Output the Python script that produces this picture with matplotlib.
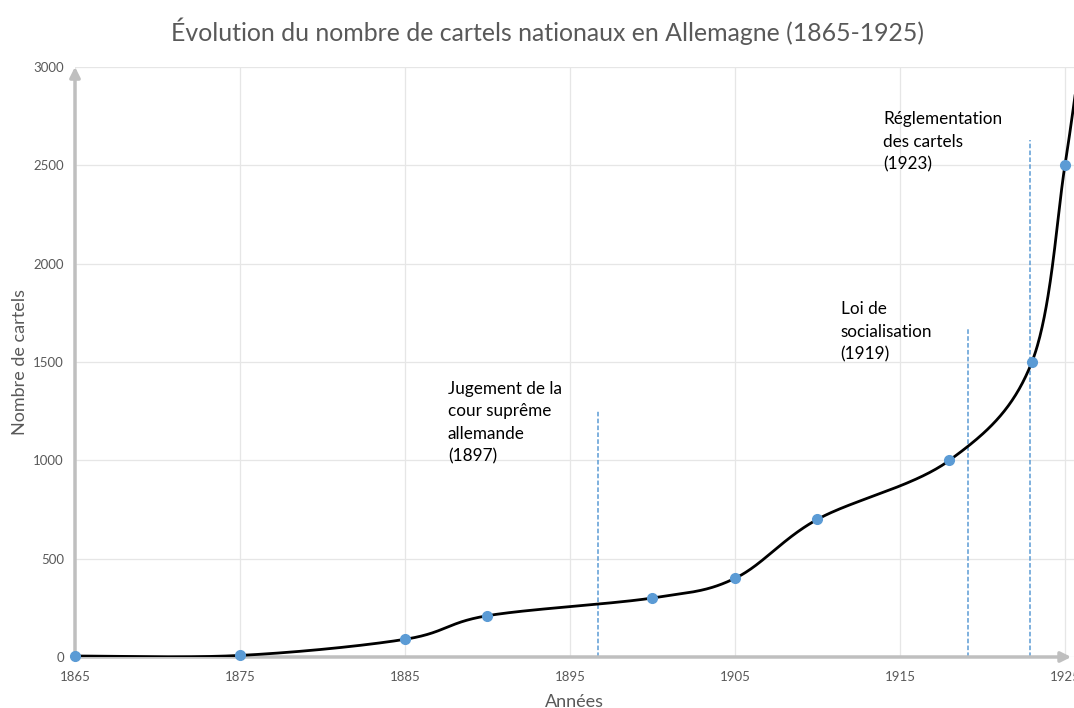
import matplotlib.pyplot as plt
import numpy as np

plt.rcParams['font.family'] = ['Lato', 'DejaVu Sans']

# data
years = [1865, 1875, 1885, 1890, 1900, 1905, 1910, 1918, 1923, 1925, 1926]
cartels = [5, 8, 90, 210, 300, 400, 700, 1000, 1500, 2500, 3100]

event_years = [1896.7, 1919.1, 1922.9]
event_tops = [1250, 1680, 2630]
event_labels = [
    "Jugement de la\ncour suprême\nallemande\n(1897)",
    "Loi de\nsocialisation\n(1919)",
    "Réglementation\ndes cartels\n(1923)",
]
label_pos = [(1887.6, 1405), (1911.4, 1810), (1914.0, 2775)]

GRAY = "#595959"
BLUE = "#5B9BD5"


def catmull_rom(xs, ys, n=60):
    p = np.column_stack([xs, ys]).astype(float)
    p = np.vstack([p[0], p, p[-1]])
    out = []
    for i in range(1, len(p) - 2):
        p0, p1, p2, p3 = p[i - 1], p[i], p[i + 1], p[i + 2]
        t = np.linspace(0, 1, n)[:, None]
        seg = 0.5 * ((2 * p1) + (-p0 + p2) * t
                     + (2 * p0 - 5 * p1 + 4 * p2 - p3) * t ** 2
                     + (-p0 + 3 * p1 - 3 * p2 + p3) * t ** 3)
        out.append(seg)
    out = np.vstack(out)
    return out[:, 0], out[:, 1]


fig = plt.figure(figsize=(10.74, 7.08), dpi=100)
ax = fig.add_axes([75 / 1074, 51 / 708, 999 / 1074, 590 / 708])

sx, sy = catmull_rom(years, cartels)
ax.plot(sx, sy, color="black", lw=2, zorder=5)
ax.plot(years, cartels, "o", color=BLUE, ms=7, zorder=6, clip_on=False)

for yr, top in zip(event_years, event_tops):
    ax.vlines(yr, 0, top, colors=BLUE, linestyles=(0, (3, 1.5)), lw=1.1, zorder=2)
for txt, (tx, ty) in zip(event_labels, label_pos):
    ax.text(tx, ty, txt, fontsize=12.3, va="top", ha="left", color="black", linespacing=1.5)

ax.set_xlim(1865, 1925.55)
ax.set_ylim(0, 3000)
ax.set_xticks(range(1865, 1926, 10))
ax.set_yticks(range(0, 3001, 500))
ax.grid(True, color="#e6e6e6", lw=0.9, zorder=0)
ax.set_axisbelow(True)
for s in ax.spines.values():
    s.set_visible(False)
ax.tick_params(length=0, labelsize=9.5, colors=GRAY, pad=8)
ax.tick_params(axis="x", pad=10)

# axis arrows
arrow = dict(arrowstyle="-|>,head_length=0.6,head_width=0.3", color="#bfbfbf", lw=2.5)
ax.annotate("", xy=(0, 1.005), xytext=(0, 0), xycoords="axes fraction",
            arrowprops=arrow, annotation_clip=False, zorder=3)
ax.annotate("", xy=(1.0, 0), xytext=(0, 0), xycoords="axes fraction",
            arrowprops=arrow, annotation_clip=False, zorder=3)

ax.set_xlabel("Années", fontsize=13, color=GRAY, labelpad=8)
ax.set_ylabel("Nombre de cartels", fontsize=13, color=GRAY, labelpad=4)
fig.suptitle("Évolution du nombre de cartels nationaux en Allemagne (1865-1925)",
             fontsize=17.9, color=GRAY, y=0.975, x=0.51)

fig.savefig("out.png", dpi=100)
